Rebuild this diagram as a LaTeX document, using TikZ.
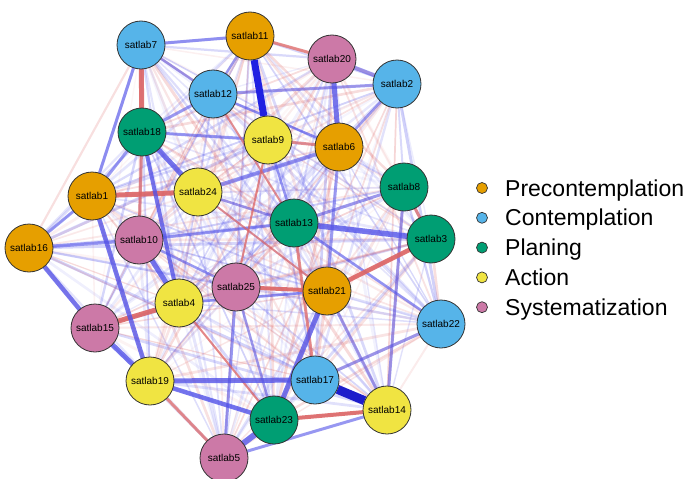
\documentclass[tikz,border=0pt]{standalone}
\usepackage{fontspec}
\setmainfont{Liberation Sans}
\usetikzlibrary{backgrounds}
\definecolor{pre}{HTML}{E69F00}
\definecolor{con}{HTML}{56B4E9}
\definecolor{pla}{HTML}{009E73}
\definecolor{act}{HTML}{F0E442}
\definecolor{sys}{HTML}{CC79A7}
\definecolor{posE}{RGB}{80,80,232}
\definecolor{negE}{RGB}{220,100,100}
\definecolor{topE}{RGB}{32,32,226}
\tikzset{
  item/.style={circle, draw=black!80, line width=0.8pt, minimum size=48pt, inner sep=0pt,
    font=\fontsize{10}{11}\selectfont},
  posedge/.style={posE, line cap=round},
  negedge/.style={negE, line cap=round},
  key/.style={circle, draw=black!80, line width=0.7pt, minimum size=11pt, inner sep=0pt},
  keytext/.style={anchor=base west, inner sep=0pt, font=\fontsize{23}{26}\selectfont}
}
\begin{document}
\begin{tikzpicture}[x=1pt,y=-1pt]
  \useasboundingbox (0,0) rectangle (691,479);
  % items
  \node[item, fill=pre] (s11) at (250,36)  {satlab11};
  \node[item, fill=con] (s7)  at (141,45)  {satlab7};
  \node[item, fill=sys] (s20) at (332,59)  {satlab20};
  \node[item, fill=con] (s2)  at (397,84)  {satlab2};
  \node[item, fill=con] (s12) at (213,94)  {satlab12};
  \node[item, fill=act] (s9)  at (268,140) {satlab9};
  \node[item, fill=pla] (s18) at (142,132) {satlab18};
  \node[item, fill=pre] (s6)  at (339,147) {satlab6};
  \node[item, fill=pla] (s8)  at (404,187) {satlab8};
  \node[item, fill=act] (s24) at (198,192) {satlab24};
  \node[item, fill=pre] (s1)  at (92,196)  {satlab1};
  \node[item, fill=pla] (s13) at (294,223) {satlab13};
  \node[item, fill=pla] (s3)  at (431,239) {satlab3};
  \node[item, fill=sys] (s10) at (139,240) {satlab10};
  \node[item, fill=pre] (s16) at (29,248)  {satlab16};
  \node[item, fill=sys] (s25) at (236,287) {satlab25};
  \node[item, fill=pre] (s21) at (327,291) {satlab21};
  \node[item, fill=act] (s4)  at (179,303) {satlab4};
  \node[item, fill=sys] (s15) at (95,328)  {satlab15};
  \node[item, fill=con] (s22) at (441,324) {satlab22};
  \node[item, fill=act] (s19) at (150,381) {satlab19};
  \node[item, fill=con] (s17) at (315,380) {satlab17};
  \node[item, fill=act] (s14) at (387,410) {satlab14};
  \node[item, fill=pla] (s23) at (274,420) {satlab23};
  \node[item, fill=sys] (s5)  at (224,458) {satlab5};
  % edges
  \begin{scope}[on background layer]
    \pgfmathsetseed{11}
    \foreach \i in {1,...,25}{
      \foreach \j in {1,...,25}{
        \ifnum\i<\j
          \pgfmathsetmacro\r{rnd}
          \pgfmathsetmacro\o{0.05+0.22*rnd}
          \pgfmathsetmacro\w{1.2+1.8*rnd}
          \ifdim\r pt<0.42pt \def\c{negedge}\else\def\c{posedge}\fi
          \draw[\c, opacity=\o, line width=\w pt] (s\i) -- (s\j);
        \fi
      }
    }
    \foreach \a/\b/\w in {7/11/3, 7/1/3, 7/12/2.5, 1/18/3, 12/18/3, 12/2/3, 18/9/3,
        20/2/4, 24/6/4, 16/10/3.5, 16/1/3, 13/8/3, 17/22/3, 5/14/3, 21/14/3,
        8/14/3, 6/21/3, 13/10/3, 25/5/3, 24/13/2.5, 13/22/2.5, 9/13/2.5,
        25/23/2.5, 4/21/2.5, 12/6/2.5, 2/6/2.5, 11/12/2.5, 10/25/2.5}
      \draw[posedge, opacity=0.55, line width=\w pt] (s\a) -- (s\b);
    \foreach \a/\b/\w in {9/6/3, 11/20/3, 8/3/3, 19/5/3, 13/17/3, 18/10/3,
        24/21/2, 4/23/2, 9/25/2, 12/13/2}
      \draw[negedge, opacity=0.7, line width=\w pt] (s\a) -- (s\b);
    \foreach \a/\b/\w in {7/18/5, 1/24/5, 15/4/5, 21/3/4.5, 25/21/4, 23/14/4}
      \draw[negedge, opacity=0.9, line width=\w pt] (s\a) -- (s\b);
    \foreach \a/\b/\w in {20/6/5, 18/24/5, 10/4/5, 1/19/4.5, 15/19/5, 16/15/4.5,
        19/17/5, 19/23/4.5, 18/4/4, 13/3/5.5, 21/23/5, 23/5/6}
      \draw[posedge, opacity=0.78, line width=\w pt] (s\a) -- (s\b);
    \draw[topE, line width=7pt] (s11) -- (s9);
    \draw[topE!90!black, line width=9pt] (s17) -- (s14);
  \end{scope}
  % legend
  \foreach \col/\txt [count=\k from 0] in {pre/Precontemplation, con/Contemplation,
      pla/Planing, act/Action, sys/Systematization}{
    \node[key, fill=\col] (k\k) at (482,188+29.8*\k) {};
    \node[keytext] (t\k) at (505,196+29.8*\k) {\txt};
  }
\end{tikzpicture}
\end{document}
